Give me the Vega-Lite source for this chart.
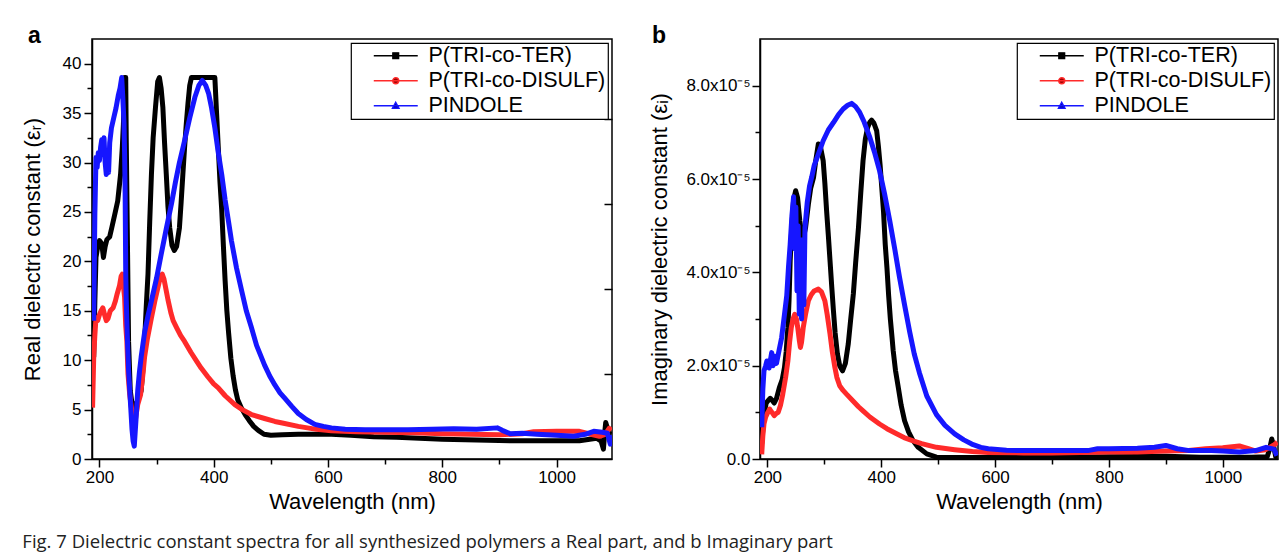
{
  "$schema": "https://vega.github.io/schema/vega-lite/v6.json",
  "background": "white",
  "padding": {"left": 20, "top": 24, "right": 4, "bottom": 6},
  "config": {
    "view": {"stroke": "black", "strokeWidth": 1.5},
    "axis": {"domainColor": "black", "domainWidth": 1.5, "tickColor": "black", "tickWidth": 1.5, "labelFont": "Liberation Sans", "labelFontSize": 17, "labelColor": "black", "titleFont": "Liberation Sans", "titleFontSize": 22, "titleFontWeight": "normal", "titleColor": "black", "grid": false},
    "legend": {"orient": "top-right", "offset": 4, "padding": 2, "strokeColor": "black", "strokeWidth": 1.2, "fillColor": "white", "labelFont": "Liberation Sans", "labelFontSize": 21.5, "labelColor": "black", "labelLimit": 400, "rowPadding": 2, "labelOffset": 54, "cornerRadius": 0, "symbolSize": 144, "labelExpr": "datum.label + ' '"}
  },
  "title": {"text": "Fig. 7  Dielectric constant spectra for all synthesized polymers a Real part, and b Imaginary part", "orient": "bottom", "anchor": "start", "font": "Open Sans", "fontSize": 18.5, "fontWeight": "normal", "color": "#222222", "offset": 20, "dx": 2},
  "spacing": 34,
  "resolve": {"scale": {"color": "independent"}, "legend": {"color": "independent"}},
  "datasets": {
    "real": [
      {"s": "P(TRI-co-TER)", "x": 190, "v": 10.3}, {"s": "P(TRI-co-TER)", "x": 192, "v": 16}, {"s": "P(TRI-co-TER)", "x": 194, "v": 20.4}, {"s": "P(TRI-co-TER)", "x": 197, "v": 21.5}, {"s": "P(TRI-co-TER)", "x": 200, "v": 22.1}, {"s": "P(TRI-co-TER)", "x": 204, "v": 21.8}, {"s": "P(TRI-co-TER)", "x": 207, "v": 20.4}, {"s": "P(TRI-co-TER)", "x": 210, "v": 21.5}, {"s": "P(TRI-co-TER)", "x": 213, "v": 22.2}, {"s": "P(TRI-co-TER)", "x": 218, "v": 22.5}, {"s": "P(TRI-co-TER)", "x": 222, "v": 23.5}, {"s": "P(TRI-co-TER)", "x": 227, "v": 24.8}, {"s": "P(TRI-co-TER)", "x": 232, "v": 26.1}, {"s": "P(TRI-co-TER)", "x": 237, "v": 28.8}, {"s": "P(TRI-co-TER)", "x": 240, "v": 31.5}, {"s": "P(TRI-co-TER)", "x": 242, "v": 33.9}, {"s": "P(TRI-co-TER)", "x": 244, "v": 38.6}, {"s": "P(TRI-co-TER)", "x": 246, "v": 38.6}, {"s": "P(TRI-co-TER)", "x": 247, "v": 32}, {"s": "P(TRI-co-TER)", "x": 249, "v": 22}, {"s": "P(TRI-co-TER)", "x": 251, "v": 11.9}, {"s": "P(TRI-co-TER)", "x": 254, "v": 6.9}, {"s": "P(TRI-co-TER)", "x": 258, "v": 5.2}, {"s": "P(TRI-co-TER)", "x": 261, "v": 5.0}, {"s": "P(TRI-co-TER)", "x": 264, "v": 5.6}, {"s": "P(TRI-co-TER)", "x": 268, "v": 6.0}, {"s": "P(TRI-co-TER)", "x": 273, "v": 6.9}, {"s": "P(TRI-co-TER)", "x": 276, "v": 9}, {"s": "P(TRI-co-TER)", "x": 279, "v": 11.9}, {"s": "P(TRI-co-TER)", "x": 282, "v": 15.5}, {"s": "P(TRI-co-TER)", "x": 285, "v": 18.7}, {"s": "P(TRI-co-TER)", "x": 288, "v": 24}, {"s": "P(TRI-co-TER)", "x": 291, "v": 28.8}, {"s": "P(TRI-co-TER)", "x": 294, "v": 32.5}, {"s": "P(TRI-co-TER)", "x": 298, "v": 35.5}, {"s": "P(TRI-co-TER)", "x": 302, "v": 38.2}, {"s": "P(TRI-co-TER)", "x": 305, "v": 38.6}, {"s": "P(TRI-co-TER)", "x": 308, "v": 37.5}, {"s": "P(TRI-co-TER)", "x": 311, "v": 35.6}, {"s": "P(TRI-co-TER)", "x": 314, "v": 32}, {"s": "P(TRI-co-TER)", "x": 317, "v": 28.8}, {"s": "P(TRI-co-TER)", "x": 320, "v": 25.5}, {"s": "P(TRI-co-TER)", "x": 323, "v": 23.4}, {"s": "P(TRI-co-TER)", "x": 327, "v": 21.6}, {"s": "P(TRI-co-TER)", "x": 331, "v": 21.1}, {"s": "P(TRI-co-TER)", "x": 335, "v": 21.5}, {"s": "P(TRI-co-TER)", "x": 340, "v": 23.4}, {"s": "P(TRI-co-TER)", "x": 343, "v": 26}, {"s": "P(TRI-co-TER)", "x": 346, "v": 28.8}, {"s": "P(TRI-co-TER)", "x": 349, "v": 31.5}, {"s": "P(TRI-co-TER)", "x": 352, "v": 33.9}, {"s": "P(TRI-co-TER)", "x": 355, "v": 36}, {"s": "P(TRI-co-TER)", "x": 358, "v": 37.8}, {"s": "P(TRI-co-TER)", "x": 361, "v": 38.6}, {"s": "P(TRI-co-TER)", "x": 370, "v": 38.6}, {"s": "P(TRI-co-TER)", "x": 380, "v": 38.6}, {"s": "P(TRI-co-TER)", "x": 390, "v": 38.6}, {"s": "P(TRI-co-TER)", "x": 402, "v": 38.6}, {"s": "P(TRI-co-TER)", "x": 405, "v": 35}, {"s": "P(TRI-co-TER)", "x": 408, "v": 31.5}, {"s": "P(TRI-co-TER)", "x": 411, "v": 28}, {"s": "P(TRI-co-TER)", "x": 414, "v": 25.2}, {"s": "P(TRI-co-TER)", "x": 417, "v": 21.5}, {"s": "P(TRI-co-TER)", "x": 420, "v": 18}, {"s": "P(TRI-co-TER)", "x": 423, "v": 15}, {"s": "P(TRI-co-TER)", "x": 426, "v": 12.8}, {"s": "P(TRI-co-TER)", "x": 430, "v": 10.2}, {"s": "P(TRI-co-TER)", "x": 434, "v": 8.4}, {"s": "P(TRI-co-TER)", "x": 438, "v": 7.0}, {"s": "P(TRI-co-TER)", "x": 442, "v": 6.0}, {"s": "P(TRI-co-TER)", "x": 448, "v": 5.2}, {"s": "P(TRI-co-TER)", "x": 455, "v": 4.5}, {"s": "P(TRI-co-TER)", "x": 462, "v": 3.9}, {"s": "P(TRI-co-TER)", "x": 470, "v": 3.3}, {"s": "P(TRI-co-TER)", "x": 478, "v": 2.9}, {"s": "P(TRI-co-TER)", "x": 488, "v": 2.5}, {"s": "P(TRI-co-TER)", "x": 500, "v": 2.4}, {"s": "P(TRI-co-TER)", "x": 520, "v": 2.45}, {"s": "P(TRI-co-TER)", "x": 548, "v": 2.5}, {"s": "P(TRI-co-TER)", "x": 580, "v": 2.5}, {"s": "P(TRI-co-TER)", "x": 606, "v": 2.5}, {"s": "P(TRI-co-TER)", "x": 640, "v": 2.4}, {"s": "P(TRI-co-TER)", "x": 680, "v": 2.25}, {"s": "P(TRI-co-TER)", "x": 720, "v": 2.2}, {"s": "P(TRI-co-TER)", "x": 760, "v": 2.1}, {"s": "P(TRI-co-TER)", "x": 800, "v": 2.0}, {"s": "P(TRI-co-TER)", "x": 840, "v": 1.95}, {"s": "P(TRI-co-TER)", "x": 880, "v": 1.9}, {"s": "P(TRI-co-TER)", "x": 920, "v": 1.85}, {"s": "P(TRI-co-TER)", "x": 960, "v": 1.85}, {"s": "P(TRI-co-TER)", "x": 1000, "v": 1.85}, {"s": "P(TRI-co-TER)", "x": 1040, "v": 1.85}, {"s": "P(TRI-co-TER)", "x": 1070, "v": 2.1}, {"s": "P(TRI-co-TER)", "x": 1078, "v": 1.8}, {"s": "P(TRI-co-TER)", "x": 1082, "v": 1.0}, {"s": "P(TRI-co-TER)", "x": 1084, "v": 2.5}, {"s": "P(TRI-co-TER)", "x": 1086, "v": 3.7}, {"s": "P(TRI-co-TER)", "x": 1088, "v": 3.3}, {"s": "P(TRI-co-TER)", "x": 1092, "v": 2.6}, {"s": "P(TRI-co-TER)", "x": 1096, "v": 2.5},
      {"s": "P(TRI-co-DISULF)", "x": 188, "v": 5.2}, {"s": "P(TRI-co-DISULF)", "x": 190, "v": 10.3}, {"s": "P(TRI-co-DISULF)", "x": 192, "v": 12.5}, {"s": "P(TRI-co-DISULF)", "x": 194, "v": 14.3}, {"s": "P(TRI-co-DISULF)", "x": 197, "v": 14.0}, {"s": "P(TRI-co-DISULF)", "x": 200, "v": 14.6}, {"s": "P(TRI-co-DISULF)", "x": 203, "v": 15.0}, {"s": "P(TRI-co-DISULF)", "x": 206, "v": 15.3}, {"s": "P(TRI-co-DISULF)", "x": 209, "v": 14.6}, {"s": "P(TRI-co-DISULF)", "x": 212, "v": 14.0}, {"s": "P(TRI-co-DISULF)", "x": 215, "v": 14.2}, {"s": "P(TRI-co-DISULF)", "x": 219, "v": 15.0}, {"s": "P(TRI-co-DISULF)", "x": 224, "v": 15.3}, {"s": "P(TRI-co-DISULF)", "x": 228, "v": 16}, {"s": "P(TRI-co-DISULF)", "x": 231, "v": 16.7}, {"s": "P(TRI-co-DISULF)", "x": 235, "v": 17.5}, {"s": "P(TRI-co-DISULF)", "x": 238, "v": 18.5}, {"s": "P(TRI-co-DISULF)", "x": 240, "v": 18.7}, {"s": "P(TRI-co-DISULF)", "x": 242, "v": 17.5}, {"s": "P(TRI-co-DISULF)", "x": 244, "v": 16.4}, {"s": "P(TRI-co-DISULF)", "x": 246, "v": 13.5}, {"s": "P(TRI-co-DISULF)", "x": 248, "v": 11.9}, {"s": "P(TRI-co-DISULF)", "x": 250, "v": 8.6}, {"s": "P(TRI-co-DISULF)", "x": 253, "v": 6.5}, {"s": "P(TRI-co-DISULF)", "x": 256, "v": 5.2}, {"s": "P(TRI-co-DISULF)", "x": 260, "v": 3.2}, {"s": "P(TRI-co-DISULF)", "x": 263, "v": 4.0}, {"s": "P(TRI-co-DISULF)", "x": 267, "v": 5.5}, {"s": "P(TRI-co-DISULF)", "x": 272, "v": 6.5}, {"s": "P(TRI-co-DISULF)", "x": 276, "v": 8.5}, {"s": "P(TRI-co-DISULF)", "x": 279, "v": 10.3}, {"s": "P(TRI-co-DISULF)", "x": 284, "v": 12.2}, {"s": "P(TRI-co-DISULF)", "x": 291, "v": 14.3}, {"s": "P(TRI-co-DISULF)", "x": 297, "v": 16}, {"s": "P(TRI-co-DISULF)", "x": 303, "v": 17.5}, {"s": "P(TRI-co-DISULF)", "x": 307, "v": 18.5}, {"s": "P(TRI-co-DISULF)", "x": 310, "v": 18.7}, {"s": "P(TRI-co-DISULF)", "x": 313, "v": 18.2}, {"s": "P(TRI-co-DISULF)", "x": 317, "v": 17}, {"s": "P(TRI-co-DISULF)", "x": 320, "v": 16.1}, {"s": "P(TRI-co-DISULF)", "x": 325, "v": 14.8}, {"s": "P(TRI-co-DISULF)", "x": 329, "v": 14.0}, {"s": "P(TRI-co-DISULF)", "x": 335, "v": 13.3}, {"s": "P(TRI-co-DISULF)", "x": 342, "v": 12.5}, {"s": "P(TRI-co-DISULF)", "x": 349, "v": 11.9}, {"s": "P(TRI-co-DISULF)", "x": 360, "v": 10.8}, {"s": "P(TRI-co-DISULF)", "x": 370, "v": 9.9}, {"s": "P(TRI-co-DISULF)", "x": 378, "v": 9.2}, {"s": "P(TRI-co-DISULF)", "x": 390, "v": 8.3}, {"s": "P(TRI-co-DISULF)", "x": 400, "v": 7.6}, {"s": "P(TRI-co-DISULF)", "x": 408, "v": 7.2}, {"s": "P(TRI-co-DISULF)", "x": 420, "v": 6.4}, {"s": "P(TRI-co-DISULF)", "x": 437, "v": 5.5}, {"s": "P(TRI-co-DISULF)", "x": 450, "v": 5.0}, {"s": "P(TRI-co-DISULF)", "x": 466, "v": 4.5}, {"s": "P(TRI-co-DISULF)", "x": 489, "v": 4.1}, {"s": "P(TRI-co-DISULF)", "x": 507, "v": 3.8}, {"s": "P(TRI-co-DISULF)", "x": 520, "v": 3.65}, {"s": "P(TRI-co-DISULF)", "x": 548, "v": 3.3}, {"s": "P(TRI-co-DISULF)", "x": 580, "v": 3.0}, {"s": "P(TRI-co-DISULF)", "x": 606, "v": 2.85}, {"s": "P(TRI-co-DISULF)", "x": 650, "v": 2.75}, {"s": "P(TRI-co-DISULF)", "x": 700, "v": 2.7}, {"s": "P(TRI-co-DISULF)", "x": 750, "v": 2.65}, {"s": "P(TRI-co-DISULF)", "x": 800, "v": 2.55}, {"s": "P(TRI-co-DISULF)", "x": 850, "v": 2.5}, {"s": "P(TRI-co-DISULF)", "x": 900, "v": 2.45}, {"s": "P(TRI-co-DISULF)", "x": 940, "v": 2.55}, {"s": "P(TRI-co-DISULF)", "x": 960, "v": 2.75}, {"s": "P(TRI-co-DISULF)", "x": 1000, "v": 2.8}, {"s": "P(TRI-co-DISULF)", "x": 1040, "v": 2.8}, {"s": "P(TRI-co-DISULF)", "x": 1060, "v": 2.5}, {"s": "P(TRI-co-DISULF)", "x": 1075, "v": 2.3}, {"s": "P(TRI-co-DISULF)", "x": 1085, "v": 2.5}, {"s": "P(TRI-co-DISULF)", "x": 1092, "v": 3.1}, {"s": "P(TRI-co-DISULF)", "x": 1096, "v": 2.9},
      {"s": "PINDOLE", "x": 190, "v": 14}, {"s": "PINDOLE", "x": 192, "v": 24.8}, {"s": "PINDOLE", "x": 194, "v": 30.5}, {"s": "PINDOLE", "x": 196, "v": 29.5}, {"s": "PINDOLE", "x": 198, "v": 31}, {"s": "PINDOLE", "x": 200, "v": 30.2}, {"s": "PINDOLE", "x": 202, "v": 31.5}, {"s": "PINDOLE", "x": 204, "v": 32.3}, {"s": "PINDOLE", "x": 206, "v": 31}, {"s": "PINDOLE", "x": 208, "v": 32.5}, {"s": "PINDOLE", "x": 210, "v": 30}, {"s": "PINDOLE", "x": 212, "v": 28.8}, {"s": "PINDOLE", "x": 214, "v": 31}, {"s": "PINDOLE", "x": 216, "v": 29}, {"s": "PINDOLE", "x": 218, "v": 32}, {"s": "PINDOLE", "x": 221, "v": 33.5}, {"s": "PINDOLE", "x": 225, "v": 34.5}, {"s": "PINDOLE", "x": 229, "v": 35.5}, {"s": "PINDOLE", "x": 233, "v": 36.8}, {"s": "PINDOLE", "x": 236, "v": 37.5}, {"s": "PINDOLE", "x": 239, "v": 38.6}, {"s": "PINDOLE", "x": 241, "v": 36.5}, {"s": "PINDOLE", "x": 243, "v": 34}, {"s": "PINDOLE", "x": 244, "v": 31}, {"s": "PINDOLE", "x": 245, "v": 27}, {"s": "PINDOLE", "x": 246, "v": 19}, {"s": "PINDOLE", "x": 247, "v": 16}, {"s": "PINDOLE", "x": 249, "v": 12}, {"s": "PINDOLE", "x": 251, "v": 9}, {"s": "PINDOLE", "x": 253, "v": 7}, {"s": "PINDOLE", "x": 255, "v": 5}, {"s": "PINDOLE", "x": 257, "v": 3}, {"s": "PINDOLE", "x": 259, "v": 1.8}, {"s": "PINDOLE", "x": 261, "v": 1.3}, {"s": "PINDOLE", "x": 264, "v": 4}, {"s": "PINDOLE", "x": 267, "v": 6.9}, {"s": "PINDOLE", "x": 270, "v": 8.8}, {"s": "PINDOLE", "x": 273, "v": 10.3}, {"s": "PINDOLE", "x": 279, "v": 12.8}, {"s": "PINDOLE", "x": 285, "v": 14.5}, {"s": "PINDOLE", "x": 291, "v": 16}, {"s": "PINDOLE", "x": 300, "v": 18.3}, {"s": "PINDOLE", "x": 308, "v": 20.7}, {"s": "PINDOLE", "x": 317, "v": 23.3}, {"s": "PINDOLE", "x": 326, "v": 25.8}, {"s": "PINDOLE", "x": 333, "v": 28}, {"s": "PINDOLE", "x": 340, "v": 30}, {"s": "PINDOLE", "x": 349, "v": 32.2}, {"s": "PINDOLE", "x": 358, "v": 34.5}, {"s": "PINDOLE", "x": 367, "v": 36.6}, {"s": "PINDOLE", "x": 374, "v": 37.8}, {"s": "PINDOLE", "x": 380, "v": 38.3}, {"s": "PINDOLE", "x": 386, "v": 37.8}, {"s": "PINDOLE", "x": 391, "v": 37}, {"s": "PINDOLE", "x": 396, "v": 35.6}, {"s": "PINDOLE", "x": 402, "v": 33.5}, {"s": "PINDOLE", "x": 408, "v": 31}, {"s": "PINDOLE", "x": 414, "v": 28.8}, {"s": "PINDOLE", "x": 420, "v": 26.2}, {"s": "PINDOLE", "x": 426, "v": 24}, {"s": "PINDOLE", "x": 431, "v": 22.1}, {"s": "PINDOLE", "x": 440, "v": 19.3}, {"s": "PINDOLE", "x": 449, "v": 17}, {"s": "PINDOLE", "x": 457, "v": 15}, {"s": "PINDOLE", "x": 466, "v": 13.3}, {"s": "PINDOLE", "x": 475, "v": 11.5}, {"s": "PINDOLE", "x": 489, "v": 9.5}, {"s": "PINDOLE", "x": 498, "v": 8.4}, {"s": "PINDOLE", "x": 507, "v": 7.5}, {"s": "PINDOLE", "x": 516, "v": 6.7}, {"s": "PINDOLE", "x": 525, "v": 6.1}, {"s": "PINDOLE", "x": 537, "v": 5.3}, {"s": "PINDOLE", "x": 548, "v": 4.6}, {"s": "PINDOLE", "x": 562, "v": 4.0}, {"s": "PINDOLE", "x": 577, "v": 3.5}, {"s": "PINDOLE", "x": 592, "v": 3.3}, {"s": "PINDOLE", "x": 606, "v": 3.15}, {"s": "PINDOLE", "x": 630, "v": 3.0}, {"s": "PINDOLE", "x": 665, "v": 2.95}, {"s": "PINDOLE", "x": 700, "v": 2.95}, {"s": "PINDOLE", "x": 740, "v": 2.95}, {"s": "PINDOLE", "x": 782, "v": 3.0}, {"s": "PINDOLE", "x": 820, "v": 3.05}, {"s": "PINDOLE", "x": 860, "v": 3.0}, {"s": "PINDOLE", "x": 896, "v": 3.15}, {"s": "PINDOLE", "x": 905, "v": 2.9}, {"s": "PINDOLE", "x": 919, "v": 2.55}, {"s": "PINDOLE", "x": 940, "v": 2.6}, {"s": "PINDOLE", "x": 966, "v": 2.5}, {"s": "PINDOLE", "x": 1000, "v": 2.4}, {"s": "PINDOLE", "x": 1030, "v": 2.3}, {"s": "PINDOLE", "x": 1050, "v": 2.5}, {"s": "PINDOLE", "x": 1065, "v": 2.8}, {"s": "PINDOLE", "x": 1080, "v": 2.7}, {"s": "PINDOLE", "x": 1089, "v": 2.6}, {"s": "PINDOLE", "x": 1094, "v": 1.5}, {"s": "PINDOLE", "x": 1097, "v": 2.4}
    ],
    "imag": [
      {"s": "P(TRI-co-TER)", "x": 190, "v": 0.33e-5}, {"s": "P(TRI-co-TER)", "x": 193, "v": 0.8e-5}, {"s": "P(TRI-co-TER)", "x": 195, "v": 1.03e-5}, {"s": "P(TRI-co-TER)", "x": 198, "v": 1.2e-5}, {"s": "P(TRI-co-TER)", "x": 201, "v": 1.25e-5}, {"s": "P(TRI-co-TER)", "x": 205, "v": 1.3e-5}, {"s": "P(TRI-co-TER)", "x": 209, "v": 1.25e-5}, {"s": "P(TRI-co-TER)", "x": 212, "v": 1.2e-5}, {"s": "P(TRI-co-TER)", "x": 216, "v": 1.3e-5}, {"s": "P(TRI-co-TER)", "x": 221, "v": 1.53e-5}, {"s": "P(TRI-co-TER)", "x": 226, "v": 1.7e-5}, {"s": "P(TRI-co-TER)", "x": 230, "v": 1.96e-5}, {"s": "P(TRI-co-TER)", "x": 233, "v": 2.3e-5}, {"s": "P(TRI-co-TER)", "x": 236, "v": 2.82e-5}, {"s": "P(TRI-co-TER)", "x": 238, "v": 3.4e-5}, {"s": "P(TRI-co-TER)", "x": 240, "v": 4.25e-5}, {"s": "P(TRI-co-TER)", "x": 243, "v": 5.0e-5}, {"s": "P(TRI-co-TER)", "x": 246, "v": 5.55e-5}, {"s": "P(TRI-co-TER)", "x": 249.6, "v": 5.75e-5}, {"s": "P(TRI-co-TER)", "x": 253, "v": 5.6e-5}, {"s": "P(TRI-co-TER)", "x": 257, "v": 5.1e-5}, {"s": "P(TRI-co-TER)", "x": 262, "v": 4.68e-5}, {"s": "P(TRI-co-TER)", "x": 267, "v": 4.95e-5}, {"s": "P(TRI-co-TER)", "x": 272, "v": 5.46e-5}, {"s": "P(TRI-co-TER)", "x": 276, "v": 5.8e-5}, {"s": "P(TRI-co-TER)", "x": 281, "v": 6.03e-5}, {"s": "P(TRI-co-TER)", "x": 285, "v": 6.4e-5}, {"s": "P(TRI-co-TER)", "x": 289.5, "v": 6.75e-5}, {"s": "P(TRI-co-TER)", "x": 293, "v": 6.7e-5}, {"s": "P(TRI-co-TER)", "x": 298, "v": 6.39e-5}, {"s": "P(TRI-co-TER)", "x": 301, "v": 5.9e-5}, {"s": "P(TRI-co-TER)", "x": 304, "v": 5.32e-5}, {"s": "P(TRI-co-TER)", "x": 307, "v": 4.8e-5}, {"s": "P(TRI-co-TER)", "x": 310, "v": 4.25e-5}, {"s": "P(TRI-co-TER)", "x": 313, "v": 3.7e-5}, {"s": "P(TRI-co-TER)", "x": 316, "v": 3.18e-5}, {"s": "P(TRI-co-TER)", "x": 319, "v": 2.7e-5}, {"s": "P(TRI-co-TER)", "x": 323, "v": 2.25e-5}, {"s": "P(TRI-co-TER)", "x": 327, "v": 2.0e-5}, {"s": "P(TRI-co-TER)", "x": 332, "v": 1.89e-5}, {"s": "P(TRI-co-TER)", "x": 337, "v": 2.05e-5}, {"s": "P(TRI-co-TER)", "x": 342, "v": 2.46e-5}, {"s": "P(TRI-co-TER)", "x": 346, "v": 2.95e-5}, {"s": "P(TRI-co-TER)", "x": 351, "v": 3.54e-5}, {"s": "P(TRI-co-TER)", "x": 355, "v": 4.2e-5}, {"s": "P(TRI-co-TER)", "x": 360, "v": 4.96e-5}, {"s": "P(TRI-co-TER)", "x": 364, "v": 5.7e-5}, {"s": "P(TRI-co-TER)", "x": 368, "v": 6.39e-5}, {"s": "P(TRI-co-TER)", "x": 372, "v": 6.85e-5}, {"s": "P(TRI-co-TER)", "x": 376, "v": 7.1e-5}, {"s": "P(TRI-co-TER)", "x": 380, "v": 7.22e-5}, {"s": "P(TRI-co-TER)", "x": 383, "v": 7.26e-5}, {"s": "P(TRI-co-TER)", "x": 387, "v": 7.2e-5}, {"s": "P(TRI-co-TER)", "x": 392, "v": 7.03e-5}, {"s": "P(TRI-co-TER)", "x": 395, "v": 6.7e-5}, {"s": "P(TRI-co-TER)", "x": 398, "v": 6.3e-5}, {"s": "P(TRI-co-TER)", "x": 401, "v": 5.8e-5}, {"s": "P(TRI-co-TER)", "x": 404, "v": 5.3e-5}, {"s": "P(TRI-co-TER)", "x": 407, "v": 4.6e-5}, {"s": "P(TRI-co-TER)", "x": 410, "v": 4.1e-5}, {"s": "P(TRI-co-TER)", "x": 413, "v": 3.5e-5}, {"s": "P(TRI-co-TER)", "x": 416, "v": 3.0e-5}, {"s": "P(TRI-co-TER)", "x": 419, "v": 2.6e-5}, {"s": "P(TRI-co-TER)", "x": 421, "v": 2.32e-5}, {"s": "P(TRI-co-TER)", "x": 425, "v": 1.9e-5}, {"s": "P(TRI-co-TER)", "x": 430, "v": 1.53e-5}, {"s": "P(TRI-co-TER)", "x": 435, "v": 1.15e-5}, {"s": "P(TRI-co-TER)", "x": 441, "v": 0.82e-5}, {"s": "P(TRI-co-TER)", "x": 448, "v": 0.58e-5}, {"s": "P(TRI-co-TER)", "x": 456, "v": 0.39e-5}, {"s": "P(TRI-co-TER)", "x": 465, "v": 0.25e-5}, {"s": "P(TRI-co-TER)", "x": 480, "v": 0.11e-5}, {"s": "P(TRI-co-TER)", "x": 497, "v": 0.04e-5}, {"s": "P(TRI-co-TER)", "x": 520, "v": 0.03e-5}, {"s": "P(TRI-co-TER)", "x": 600, "v": 0.03e-5}, {"s": "P(TRI-co-TER)", "x": 700, "v": 0.03e-5}, {"s": "P(TRI-co-TER)", "x": 800, "v": 0.05e-5}, {"s": "P(TRI-co-TER)", "x": 900, "v": 0.06e-5}, {"s": "P(TRI-co-TER)", "x": 960, "v": 0.04e-5}, {"s": "P(TRI-co-TER)", "x": 1000, "v": 0.04e-5}, {"s": "P(TRI-co-TER)", "x": 1050, "v": 0.04e-5}, {"s": "P(TRI-co-TER)", "x": 1078, "v": 0.05e-5}, {"s": "P(TRI-co-TER)", "x": 1082, "v": 0.2e-5}, {"s": "P(TRI-co-TER)", "x": 1086, "v": 0.43e-5}, {"s": "P(TRI-co-TER)", "x": 1089, "v": 0.3e-5}, {"s": "P(TRI-co-TER)", "x": 1093, "v": 0.05e-5}, {"s": "P(TRI-co-TER)", "x": 1096, "v": 0.02e-5},
      {"s": "P(TRI-co-DISULF)", "x": 190, "v": 0.1e-5}, {"s": "P(TRI-co-DISULF)", "x": 192, "v": 0.5e-5}, {"s": "P(TRI-co-DISULF)", "x": 194, "v": 0.75e-5}, {"s": "P(TRI-co-DISULF)", "x": 197, "v": 0.9e-5}, {"s": "P(TRI-co-DISULF)", "x": 200, "v": 0.98e-5}, {"s": "P(TRI-co-DISULF)", "x": 204, "v": 1.07e-5}, {"s": "P(TRI-co-DISULF)", "x": 208, "v": 1.0e-5}, {"s": "P(TRI-co-DISULF)", "x": 212, "v": 0.93e-5}, {"s": "P(TRI-co-DISULF)", "x": 215, "v": 0.97e-5}, {"s": "P(TRI-co-DISULF)", "x": 219, "v": 1.0e-5}, {"s": "P(TRI-co-DISULF)", "x": 223, "v": 1.15e-5}, {"s": "P(TRI-co-DISULF)", "x": 227, "v": 1.39e-5}, {"s": "P(TRI-co-DISULF)", "x": 232, "v": 1.75e-5}, {"s": "P(TRI-co-DISULF)", "x": 236, "v": 2.1e-5}, {"s": "P(TRI-co-DISULF)", "x": 239, "v": 2.5e-5}, {"s": "P(TRI-co-DISULF)", "x": 242, "v": 2.82e-5}, {"s": "P(TRI-co-DISULF)", "x": 245, "v": 3.0e-5}, {"s": "P(TRI-co-DISULF)", "x": 248, "v": 3.1e-5}, {"s": "P(TRI-co-DISULF)", "x": 251, "v": 3.0e-5}, {"s": "P(TRI-co-DISULF)", "x": 253.5, "v": 2.8e-5}, {"s": "P(TRI-co-DISULF)", "x": 256, "v": 2.55e-5}, {"s": "P(TRI-co-DISULF)", "x": 258, "v": 2.39e-5}, {"s": "P(TRI-co-DISULF)", "x": 260, "v": 2.5e-5}, {"s": "P(TRI-co-DISULF)", "x": 263, "v": 2.82e-5}, {"s": "P(TRI-co-DISULF)", "x": 267, "v": 3.1e-5}, {"s": "P(TRI-co-DISULF)", "x": 272, "v": 3.39e-5}, {"s": "P(TRI-co-DISULF)", "x": 277, "v": 3.52e-5}, {"s": "P(TRI-co-DISULF)", "x": 282, "v": 3.6e-5}, {"s": "P(TRI-co-DISULF)", "x": 289.5, "v": 3.64e-5}, {"s": "P(TRI-co-DISULF)", "x": 295, "v": 3.58e-5}, {"s": "P(TRI-co-DISULF)", "x": 301, "v": 3.39e-5}, {"s": "P(TRI-co-DISULF)", "x": 305, "v": 3.1e-5}, {"s": "P(TRI-co-DISULF)", "x": 310, "v": 2.68e-5}, {"s": "P(TRI-co-DISULF)", "x": 314, "v": 2.3e-5}, {"s": "P(TRI-co-DISULF)", "x": 318.6, "v": 1.96e-5}, {"s": "P(TRI-co-DISULF)", "x": 322, "v": 1.75e-5}, {"s": "P(TRI-co-DISULF)", "x": 327, "v": 1.57e-5}, {"s": "P(TRI-co-DISULF)", "x": 333, "v": 1.47e-5}, {"s": "P(TRI-co-DISULF)", "x": 339, "v": 1.39e-5}, {"s": "P(TRI-co-DISULF)", "x": 350, "v": 1.25e-5}, {"s": "P(TRI-co-DISULF)", "x": 360, "v": 1.12e-5}, {"s": "P(TRI-co-DISULF)", "x": 368, "v": 1.03e-5}, {"s": "P(TRI-co-DISULF)", "x": 380, "v": 0.9e-5}, {"s": "P(TRI-co-DISULF)", "x": 397, "v": 0.75e-5}, {"s": "P(TRI-co-DISULF)", "x": 410, "v": 0.65e-5}, {"s": "P(TRI-co-DISULF)", "x": 427, "v": 0.54e-5}, {"s": "P(TRI-co-DISULF)", "x": 440, "v": 0.46e-5}, {"s": "P(TRI-co-DISULF)", "x": 456, "v": 0.39e-5}, {"s": "P(TRI-co-DISULF)", "x": 471, "v": 0.33e-5}, {"s": "P(TRI-co-DISULF)", "x": 497, "v": 0.25e-5}, {"s": "P(TRI-co-DISULF)", "x": 529, "v": 0.2e-5}, {"s": "P(TRI-co-DISULF)", "x": 560, "v": 0.16e-5}, {"s": "P(TRI-co-DISULF)", "x": 588, "v": 0.14e-5}, {"s": "P(TRI-co-DISULF)", "x": 650, "v": 0.13e-5}, {"s": "P(TRI-co-DISULF)", "x": 700, "v": 0.13e-5}, {"s": "P(TRI-co-DISULF)", "x": 750, "v": 0.14e-5}, {"s": "P(TRI-co-DISULF)", "x": 800, "v": 0.15e-5}, {"s": "P(TRI-co-DISULF)", "x": 850, "v": 0.15e-5}, {"s": "P(TRI-co-DISULF)", "x": 900, "v": 0.17e-5}, {"s": "P(TRI-co-DISULF)", "x": 940, "v": 0.18e-5}, {"s": "P(TRI-co-DISULF)", "x": 970, "v": 0.22e-5}, {"s": "P(TRI-co-DISULF)", "x": 1000, "v": 0.24e-5}, {"s": "P(TRI-co-DISULF)", "x": 1029, "v": 0.28e-5}, {"s": "P(TRI-co-DISULF)", "x": 1045, "v": 0.22e-5}, {"s": "P(TRI-co-DISULF)", "x": 1058, "v": 0.17e-5}, {"s": "P(TRI-co-DISULF)", "x": 1075, "v": 0.2e-5}, {"s": "P(TRI-co-DISULF)", "x": 1090, "v": 0.3e-5}, {"s": "P(TRI-co-DISULF)", "x": 1096, "v": 0.36e-5},
      {"s": "PINDOLE", "x": 190, "v": 0.68e-5}, {"s": "PINDOLE", "x": 192, "v": 1.5e-5}, {"s": "PINDOLE", "x": 194, "v": 1.89e-5}, {"s": "PINDOLE", "x": 197, "v": 2.0e-5}, {"s": "PINDOLE", "x": 199, "v": 2.1e-5}, {"s": "PINDOLE", "x": 203, "v": 1.95e-5}, {"s": "PINDOLE", "x": 207.5, "v": 2.28e-5}, {"s": "PINDOLE", "x": 210, "v": 2.0e-5}, {"s": "PINDOLE", "x": 213, "v": 2.2e-5}, {"s": "PINDOLE", "x": 216, "v": 2.05e-5}, {"s": "PINDOLE", "x": 220, "v": 2.3e-5}, {"s": "PINDOLE", "x": 225, "v": 2.6e-5}, {"s": "PINDOLE", "x": 229, "v": 3.0e-5}, {"s": "PINDOLE", "x": 234, "v": 3.5e-5}, {"s": "PINDOLE", "x": 237, "v": 4.1e-5}, {"s": "PINDOLE", "x": 240, "v": 4.6e-5}, {"s": "PINDOLE", "x": 243, "v": 5.2e-5}, {"s": "PINDOLE", "x": 246, "v": 5.62e-5}, {"s": "PINDOLE", "x": 248, "v": 4.5e-5}, {"s": "PINDOLE", "x": 250, "v": 5.4e-5}, {"s": "PINDOLE", "x": 252, "v": 3.6e-5}, {"s": "PINDOLE", "x": 254, "v": 5.0e-5}, {"s": "PINDOLE", "x": 256, "v": 3.1e-5}, {"s": "PINDOLE", "x": 258, "v": 4.7e-5}, {"s": "PINDOLE", "x": 260, "v": 3.0e-5}, {"s": "PINDOLE", "x": 262, "v": 4.7e-5}, {"s": "PINDOLE", "x": 264, "v": 3.3e-5}, {"s": "PINDOLE", "x": 266, "v": 4.96e-5}, {"s": "PINDOLE", "x": 270, "v": 5.5e-5}, {"s": "PINDOLE", "x": 274, "v": 5.85e-5}, {"s": "PINDOLE", "x": 278, "v": 6.05e-5}, {"s": "PINDOLE", "x": 282, "v": 6.28e-5}, {"s": "PINDOLE", "x": 290, "v": 6.55e-5}, {"s": "PINDOLE", "x": 298, "v": 6.82e-5}, {"s": "PINDOLE", "x": 307, "v": 7.05e-5}, {"s": "PINDOLE", "x": 316, "v": 7.21e-5}, {"s": "PINDOLE", "x": 325, "v": 7.38e-5}, {"s": "PINDOLE", "x": 333, "v": 7.5e-5}, {"s": "PINDOLE", "x": 341, "v": 7.58e-5}, {"s": "PINDOLE", "x": 348, "v": 7.62e-5}, {"s": "PINDOLE", "x": 355, "v": 7.55e-5}, {"s": "PINDOLE", "x": 362, "v": 7.43e-5}, {"s": "PINDOLE", "x": 370, "v": 7.22e-5}, {"s": "PINDOLE", "x": 380, "v": 6.89e-5}, {"s": "PINDOLE", "x": 388, "v": 6.58e-5}, {"s": "PINDOLE", "x": 397, "v": 6.18e-5}, {"s": "PINDOLE", "x": 406, "v": 5.67e-5}, {"s": "PINDOLE", "x": 415, "v": 5.1e-5}, {"s": "PINDOLE", "x": 424, "v": 4.48e-5}, {"s": "PINDOLE", "x": 432, "v": 3.9e-5}, {"s": "PINDOLE", "x": 441, "v": 3.3e-5}, {"s": "PINDOLE", "x": 450, "v": 2.72e-5}, {"s": "PINDOLE", "x": 458, "v": 2.25e-5}, {"s": "PINDOLE", "x": 467, "v": 1.85e-5}, {"s": "PINDOLE", "x": 480, "v": 1.35e-5}, {"s": "PINDOLE", "x": 497, "v": 0.95e-5}, {"s": "PINDOLE", "x": 512, "v": 0.72e-5}, {"s": "PINDOLE", "x": 529, "v": 0.54e-5}, {"s": "PINDOLE", "x": 545, "v": 0.41e-5}, {"s": "PINDOLE", "x": 559, "v": 0.32e-5}, {"s": "PINDOLE", "x": 575, "v": 0.25e-5}, {"s": "PINDOLE", "x": 588, "v": 0.22e-5}, {"s": "PINDOLE", "x": 620, "v": 0.19e-5}, {"s": "PINDOLE", "x": 650, "v": 0.18e-5}, {"s": "PINDOLE", "x": 700, "v": 0.18e-5}, {"s": "PINDOLE", "x": 763, "v": 0.18e-5}, {"s": "PINDOLE", "x": 780, "v": 0.22e-5}, {"s": "PINDOLE", "x": 800, "v": 0.22e-5}, {"s": "PINDOLE", "x": 850, "v": 0.23e-5}, {"s": "PINDOLE", "x": 880, "v": 0.25e-5}, {"s": "PINDOLE", "x": 900, "v": 0.29e-5}, {"s": "PINDOLE", "x": 920, "v": 0.22e-5}, {"s": "PINDOLE", "x": 941, "v": 0.18e-5}, {"s": "PINDOLE", "x": 980, "v": 0.18e-5}, {"s": "PINDOLE", "x": 1000, "v": 0.17e-5}, {"s": "PINDOLE", "x": 1029, "v": 0.15e-5}, {"s": "PINDOLE", "x": 1058, "v": 0.18e-5}, {"s": "PINDOLE", "x": 1076, "v": 0.25e-5}, {"s": "PINDOLE", "x": 1090, "v": 0.21e-5}, {"s": "PINDOLE", "x": 1095, "v": 0.07e-5}
    ]
  },
  "hconcat": [
    {
      "width": 520,
      "height": 420,
      "title": {"text": "a", "anchor": "start", "frame": "bounds", "font": "Liberation Sans", "fontSize": 23, "fontWeight": "bold", "color": "black", "offset": -9, "dx": 7},
      "data": {"name": "real"},
      "encoding": {
        "x": {"field": "x", "type": "quantitative", "title": "Wavelength (nm)", "scale": {"domain": [187, 1097], "nice": false, "zero": false},
          "axis": {"values": [200, 300, 400, 500, 600, 700, 800, 900, 1000], "labelExpr": "datum.value % 200 === 0 ? datum.label : ''", "format": "d", "tickSize": {"condition": {"test": "datum.value % 200 === 0", "value": 8}, "value": 5}, "labelPadding": 2, "titlePadding": 6}}
      },
      "layer": [
        {
          "mark": {"type": "line", "strokeWidth": 5, "strokeJoin": "round", "clip": true},
          "encoding": {
            "y": {"field": "v", "type": "quantitative", "title": "Real dielectric constant (εᵣ)", "scale": {"domain": [0, 42.5], "nice": false},
              "axis": {"values": [0, 2.5, 5, 7.5, 10, 12.5, 15, 17.5, 20, 22.5, 25, 27.5, 30, 32.5, 35, 37.5, 40], "labelExpr": "datum.value % 5 === 0 ? datum.label : ''", "tickSize": {"condition": {"test": "datum.value % 5 === 0", "value": 8}, "value": 5}, "labelPadding": 3, "titlePadding": 18}},
            "color": {"field": "s", "type": "nominal", "sort": ["P(TRI-co-TER)", "P(TRI-co-DISULF)", "PINDOLE"], "scale": {"domain": ["P(TRI-co-TER)", "P(TRI-co-DISULF)", "PINDOLE"], "range": ["#000000", "#ff2a2a", "#1616ff"]},
              "legend": {"title": null, "encode": {"symbols": {"update": {
                "shape": {"signal": "datum.value === 'P(TRI-co-TER)' ? 'M1.67,0H9M4.85,-0.48H5.81V0.48H4.85Z' : datum.value === 'P(TRI-co-DISULF)' ? 'M1.67,0H9M4.83,0A0.5,0.5 0 1,0 5.83,0A0.5,0.5 0 1,0 4.83,0Z' : 'M1.67,0H9M5.33,-0.58L5.88,0.42H4.78Z'"},
                "fill": {"signal": "datum.value === 'P(TRI-co-TER)' ? '#000000' : datum.value === 'P(TRI-co-DISULF)' ? '#990000' : '#000099'"},
                "stroke": {"value": "#000000"}, "strokeWidth": {"value": 1.4}}}}}}
          }
        },
        {
          "transform": [{"filter": "false"}],
          "mark": {"type": "point", "opacity": 0},
          "encoding": {
            "y": {"field": "v", "type": "quantitative", "scale": {"domain": [0, 4.941], "nice": false, "zero": true},
              "axis": {"orient": "right", "title": null, "values": [1, 2, 3, 4], "labels": false, "domain": false, "tickSize": -8}}
          }
        }
      ],
      "resolve": {"scale": {"y": "independent"}, "axis": {"y": "independent"}}
    },
    {
      "width": 518,
      "height": 420,
      "title": {"text": "b", "anchor": "start", "frame": "bounds", "font": "Liberation Sans", "fontSize": 23, "fontWeight": "bold", "color": "black", "offset": -9, "dx": 3},
      "data": {"name": "imag"},
      "mark": {"type": "line", "strokeWidth": 5, "strokeJoin": "round", "clip": true},
      "encoding": {
        "x": {"field": "x", "type": "quantitative", "title": "Wavelength (nm)", "scale": {"domain": [187, 1097], "nice": false, "zero": false},
          "axis": {"values": [200, 300, 400, 500, 600, 700, 800, 900, 1000], "labelExpr": "datum.value % 200 === 0 ? datum.label : ''", "format": "d", "tickSize": {"condition": {"test": "datum.value % 200 === 0", "value": 8}, "value": 5}, "labelPadding": 2, "titlePadding": 6}},
        "y": {"field": "v", "type": "quantitative", "title": "Imaginary dielectric constant (εᵢ)", "scale": {"domain": [0, 0.00009], "nice": false},
          "axis": {"values": [0, 0.00001, 0.00002, 0.00003, 0.00004, 0.00005, 0.00006, 0.00007, 0.00008], "labelExpr": "round(datum.value * 100000) % 2 === 0 ? (datum.value === 0 ? '0.0' : format(datum.value * 100000, '.1f') + 'x10⁻⁵') : ''", "tickSize": {"condition": {"test": "round(datum.value * 100000) % 2 === 0", "value": 8}, "value": 5}, "labelPadding": 2, "titlePadding": 14}},
        "color": {"field": "s", "type": "nominal", "sort": ["P(TRI-co-TER)", "P(TRI-co-DISULF)", "PINDOLE"], "scale": {"domain": ["P(TRI-co-TER)", "P(TRI-co-DISULF)", "PINDOLE"], "range": ["#000000", "#ff2a2a", "#1616ff"]},
          "legend": {"title": null, "encode": {"symbols": {"update": {
            "shape": {"signal": "datum.value === 'P(TRI-co-TER)' ? 'M1.67,0H9M4.85,-0.48H5.81V0.48H4.85Z' : datum.value === 'P(TRI-co-DISULF)' ? 'M1.67,0H9M4.83,0A0.5,0.5 0 1,0 5.83,0A0.5,0.5 0 1,0 4.83,0Z' : 'M1.67,0H9M5.33,-0.58L5.88,0.42H4.78Z'"},
            "fill": {"signal": "datum.value === 'P(TRI-co-TER)' ? '#000000' : datum.value === 'P(TRI-co-DISULF)' ? '#990000' : '#000099'"},
            "stroke": {"value": "#000000"}, "strokeWidth": {"value": 1.4}}}}}}
      }
    }
  ]
}
